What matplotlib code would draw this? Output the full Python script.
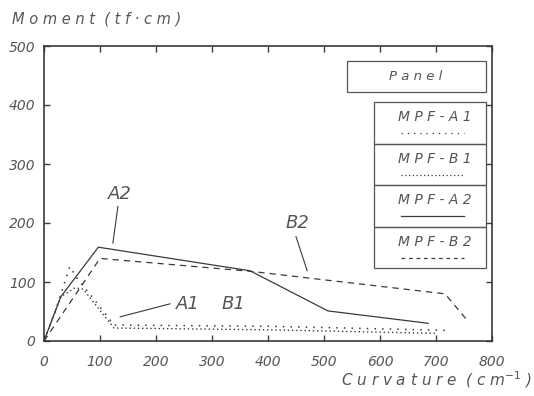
import matplotlib
matplotlib.use("Agg")
import matplotlib.pyplot as plt
from matplotlib.patches import Rectangle
from matplotlib.lines import Line2D

# Data
a1_x = [0, 20, 46, 60, 80, 125, 400, 720]
a1_y = [0, 50, 126, 105, 82, 27, 25, 18]
b1_x = [0, 30, 55, 70, 125, 400, 700]
b1_y = [0, 75, 90, 88, 22, 19, 13]
a2_x = [0, 30, 97, 368, 507, 686]
a2_y = [0, 75, 159, 119, 51, 30]
b2_x = [0, 100, 370, 716, 755]
b2_y = [0, 140, 118, 80, 36]

x_ticks = [0, 100, 200, 300, 400, 500, 600, 700, 800]
y_ticks = [0, 100, 200, 300, 400, 500]
legend_labels = ["M P F - A 1", "M P F - B 1", "M P F - A 2", "M P F - B 2"]

ink = "#3a3a3a"
txt = "#555555"
fig = plt.figure(figsize=(5.34, 3.96), dpi=100)
ax = fig.add_axes([44/534, 55/396, 448/534, 295/396])

ax.plot(a1_x, a1_y, color=ink, lw=1.1, linestyle=(0, (1, 4)))
ax.plot(b1_x, b1_y, color=ink, lw=1.0, linestyle=(0, (1, 2)))
ax.plot(a2_x, a2_y, color=ink, lw=0.9, linestyle="-")
ax.plot(b2_x, b2_y, color=ink, lw=0.9, linestyle=(0, (5, 4)))

ax.set_xlim(0, 800)
ax.set_ylim(0, 500)
ax.set_xticks(x_ticks)
ax.set_yticks(y_ticks)
ax.tick_params(direction="in", length=4, width=1, colors=ink, top=True, right=True,
               labelsize=10)
ax.tick_params(axis="x", pad=10)
ax.tick_params(axis="y", pad=6)
for lab in ax.get_xticklabels() + ax.get_yticklabels():
    lab.set_fontstyle("italic")
    lab.set_color(txt)
for s in ax.spines.values():
    s.set_color(ink)
    s.set_linewidth(1.2)

fig.text(12/534, 1 - 19/396, "M o m e n t  ( t f · c m )", fontsize=10.5, style="italic",
         color=txt, va="center", ha="left")
fig.text(532/534, 1 - 380/396, "C u r v a t u r e  ( c m$^{-1}$ )", fontsize=11,
         style="italic", color=txt, va="center", ha="right")

# Annotations
ax.text(136, 249, "A2", fontsize=13, style="italic", color=txt, ha="center", va="center")
ax.plot([132, 123], [228, 166], color=ink, lw=0.8)
ax.text(452, 200, "B2", fontsize=13, style="italic", color=txt, ha="center", va="center")
ax.plot([450, 470], [177, 119], color=ink, lw=0.8)
ax.text(257, 63, "A1", fontsize=13, style="italic", color=txt, ha="center", va="center")
ax.text(338, 63, "B1", fontsize=13, style="italic", color=txt, ha="center", va="center")
ax.plot([225, 136], [63, 41], color=ink, lw=0.8)

# Legend boxes
T = ax.transAxes
ax.add_patch(Rectangle((0.676, 0.844), 0.311, 0.105, transform=T, fill=False,
                       edgecolor=txt, lw=0.9))
ax.text(0.83, 0.897, "P a n e l", transform=T, fontsize=9.5, style="italic",
        color=txt, ha="center", va="center")
x0, x1 = 0.737, 0.987
ytop, ybot = 0.810, 0.247
h = (ytop - ybot) / 4
styles = [(0, (1, 4)), (0, (1, 2)), "-", (0, (3, 3))]
for i, (lab, ls) in enumerate(zip(legend_labels, styles)):
    yb = ytop - (i + 1) * h
    ax.add_patch(Rectangle((x0, yb), x1 - x0, h, transform=T, fill=False,
                           edgecolor=txt, lw=0.9))
    ax.text((x0 + x1) / 2 + 0.01, yb + h * 0.64, lab,
            transform=T, fontsize=10, style="italic", color=txt, ha="center", va="center")
    ax.add_line(Line2D([x0 + 0.06, x0 + 0.2], [yb + h * 0.25] * 2, transform=T,
                       color=ink, lw=0.9, linestyle=ls))

fig.savefig("out.png", dpi=100)
